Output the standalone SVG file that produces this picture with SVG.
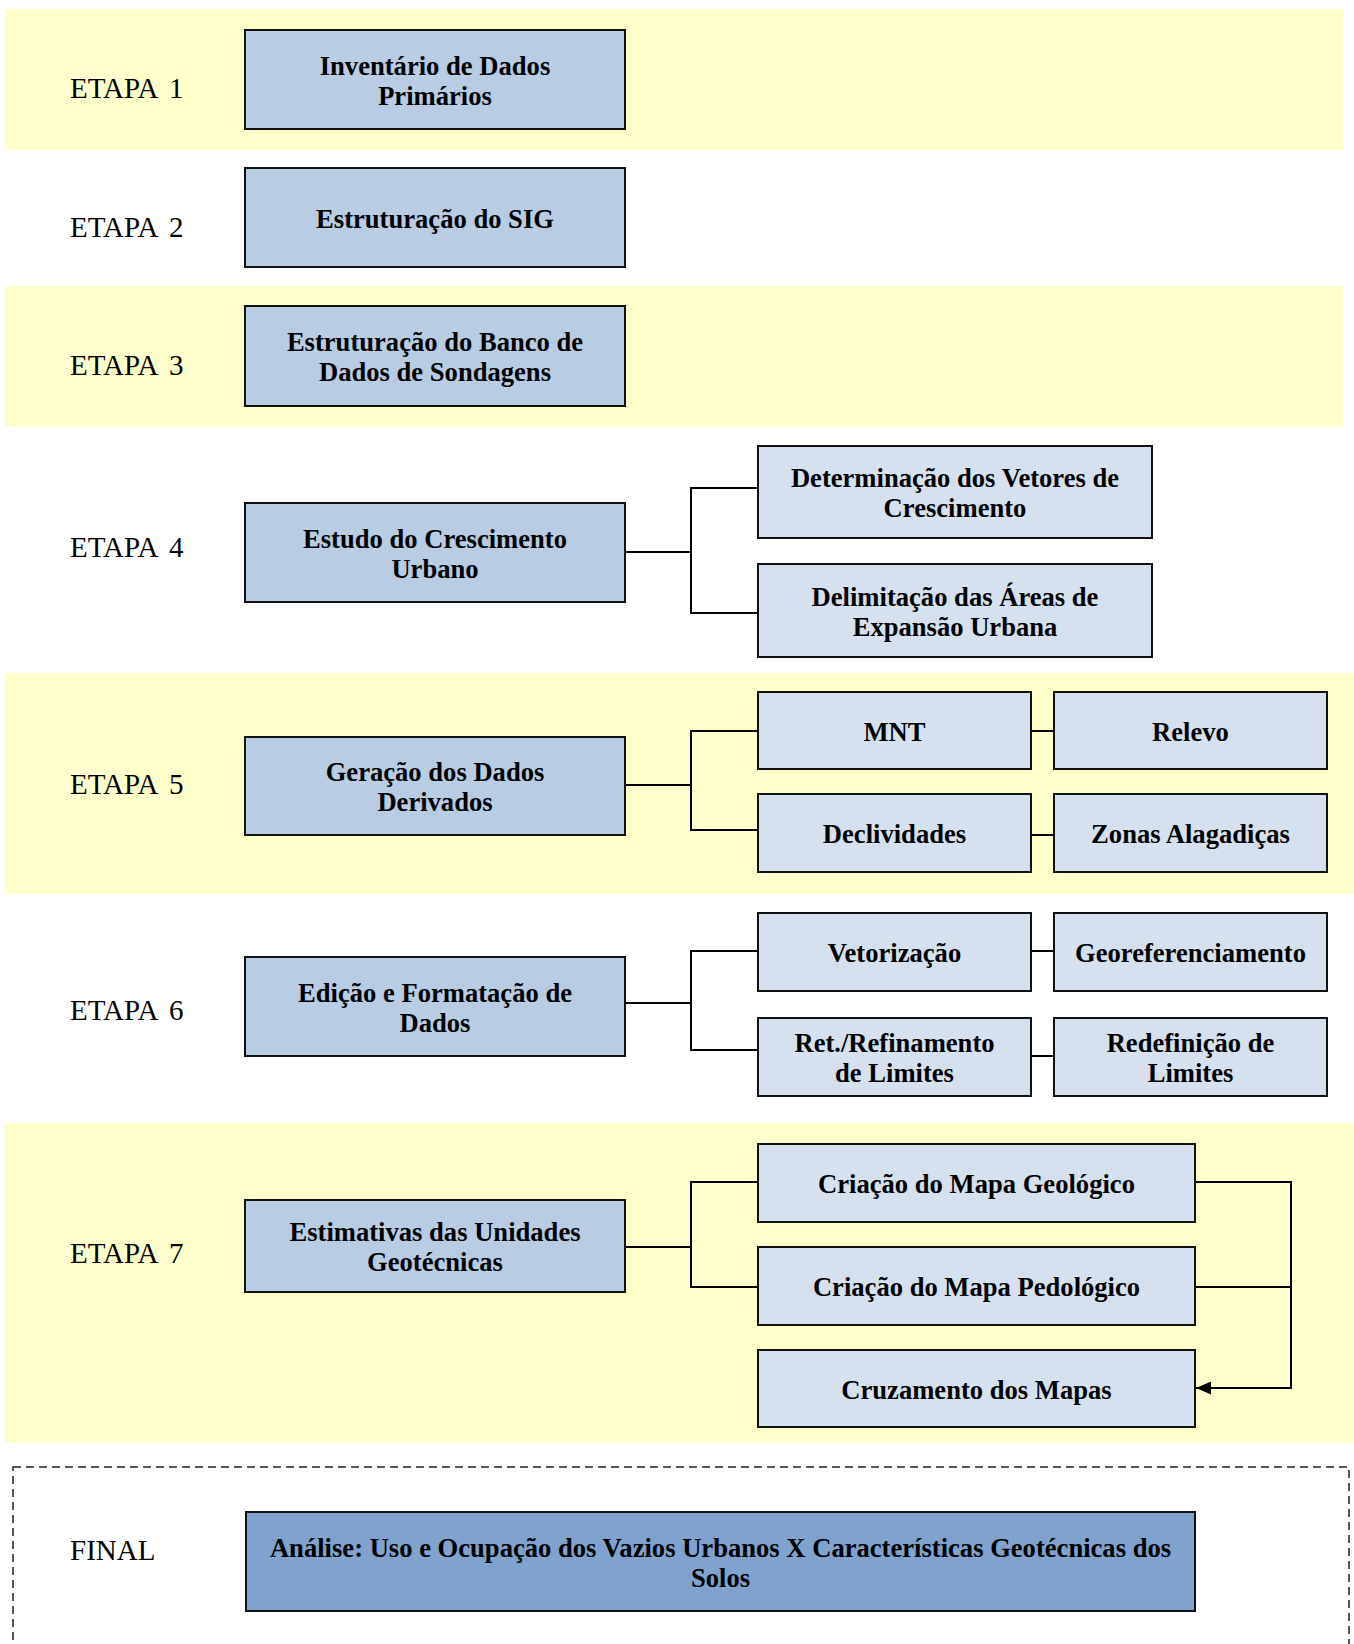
<svg xmlns="http://www.w3.org/2000/svg" width="1354" height="1644" viewBox="0 0 1354 1644">
  <defs>
    <marker id="arrow" markerWidth="15" markerHeight="13" refX="15" refY="6.5" orient="auto" markerUnits="userSpaceOnUse">
      <path d="M0,0 L15,6.5 L0,13 Z" fill="#000"/>
    </marker>
  </defs>
  <style>
    .band { fill: #FFFFCC; }
    .main { fill: #B8CCE4; stroke: #111; stroke-width: 2; }
    .sub { fill: #D6E1EF; stroke: #111; stroke-width: 2; }
    .final { fill: #7FA3CE; stroke: #111; stroke-width: 2; }
    .label { font-family: "Liberation Serif", "Times New Roman", serif; font-size: 29px; word-spacing: 5px; fill: #000; }
    .t { font-family: "Liberation Serif", "Times New Roman", serif; font-size: 26.6px; font-weight: bold; fill: #000; text-anchor: middle; }
    .conn { fill: none; stroke: #000; stroke-width: 2; }
    .dash { fill: none; stroke: #222; stroke-width: 1.5; stroke-dasharray: 8 5; }
  </style>

  <!-- stage bands -->
  <g id="bands">
    <rect class="band" x="5" y="9" width="1338" height="141"/>
    <rect class="band" x="5" y="286" width="1338" height="141"/>
    <rect class="band" x="5" y="673" width="1349" height="221"/>
    <rect class="band" x="5" y="1123" width="1349" height="320"/>
    <rect class="dash" x="13" y="1467" width="1336" height="200"/>
  </g>

  <!-- stage labels -->
  <g id="labels">
    <text class="label" x="70" y="98">ETAPA 1</text>
    <text class="label" x="70" y="237">ETAPA 2</text>
    <text class="label" x="70" y="375">ETAPA 3</text>
    <text class="label" x="70" y="557">ETAPA 4</text>
    <text class="label" x="70" y="794">ETAPA 5</text>
    <text class="label" x="70" y="1020">ETAPA 6</text>
    <text class="label" x="70" y="1263">ETAPA 7</text>
    <text class="label" x="70" y="1560">FINAL</text>
  </g>

  <!-- connectors -->
  <g id="connectors">
    <path class="conn" d="M625 552 H691 M758 488 H691 V613 H758"/>
    <path class="conn" d="M625 785 H691 M758 731 H691 V830 H758"/>
    <path class="conn" d="M1031 731 H1054 M1031 835 H1054"/>
    <path class="conn" d="M625 1003 H691 M758 951 H691 V1050 H758"/>
    <path class="conn" d="M1031 951 H1054 M1031 1056 H1054"/>
    <path class="conn" d="M625 1247 H691 M758 1182 H691 V1287 H758"/>
    <path class="conn" d="M1195 1287 H1291"/>
    <path class="conn" d="M1195 1182 H1291 V1388 H1196" marker-end="url(#arrow)"/>
  </g>

  <!-- stage 1 -->
  <g id="n-inventario">
    <rect class="main" x="245" y="30" width="380" height="99"/>
    <text class="t" x="435" y="74.5">Inventário de Dados</text>
    <text class="t" x="435" y="104.5">Primários</text>
  </g>
  <!-- stage 2 -->
  <g id="n-sig">
    <rect class="main" x="245" y="168" width="380" height="99"/>
    <text class="t" x="435" y="228">Estruturação do SIG</text>
  </g>
  <!-- stage 3 -->
  <g id="n-banco">
    <rect class="main" x="245" y="306" width="380" height="100"/>
    <text class="t" x="435" y="351">Estruturação do Banco de</text>
    <text class="t" x="435" y="381">Dados de Sondagens</text>
  </g>
  <!-- stage 4 -->
  <g id="n-crescimento">
    <rect class="main" x="245" y="503" width="380" height="99"/>
    <text class="t" x="435" y="547.5">Estudo do Crescimento</text>
    <text class="t" x="435" y="577.5">Urbano</text>
  </g>
  <g id="n-vetores">
    <rect class="sub" x="758" y="446" width="394" height="92"/>
    <text class="t" x="955" y="487">Determinação dos Vetores de</text>
    <text class="t" x="955" y="517">Crescimento</text>
  </g>
  <g id="n-expansao">
    <rect class="sub" x="758" y="564" width="394" height="93"/>
    <text class="t" x="955" y="605.5">Delimitação das Áreas de</text>
    <text class="t" x="955" y="635.5">Expansão Urbana</text>
  </g>
  <!-- stage 5 -->
  <g id="n-derivados">
    <rect class="main" x="245" y="737" width="380" height="98"/>
    <text class="t" x="435" y="781">Geração dos Dados</text>
    <text class="t" x="435" y="811">Derivados</text>
  </g>
  <g id="n-mnt">
    <rect class="sub" x="758" y="692" width="273" height="77"/>
    <text class="t" x="894.5" y="740.5">MNT</text>
  </g>
  <g id="n-relevo">
    <rect class="sub" x="1054" y="692" width="273" height="77"/>
    <text class="t" x="1190.5" y="740.5">Relevo</text>
  </g>
  <g id="n-declividades">
    <rect class="sub" x="758" y="794" width="273" height="78"/>
    <text class="t" x="894.5" y="843">Declividades</text>
  </g>
  <g id="n-alagadicas">
    <rect class="sub" x="1054" y="794" width="273" height="78"/>
    <text class="t" x="1190.5" y="843">Zonas Alagadiças</text>
  </g>
  <!-- stage 6 -->
  <g id="n-edicao">
    <rect class="main" x="245" y="957" width="380" height="99"/>
    <text class="t" x="435" y="1001.5">Edição e Formatação de</text>
    <text class="t" x="435" y="1031.5">Dados</text>
  </g>
  <g id="n-vetorizacao">
    <rect class="sub" x="758" y="913" width="273" height="78"/>
    <text class="t" x="894.5" y="962">Vetorização</text>
  </g>
  <g id="n-georef">
    <rect class="sub" x="1054" y="913" width="273" height="78"/>
    <text class="t" x="1190.5" y="962">Georeferenciamento</text>
  </g>
  <g id="n-refinamento">
    <rect class="sub" x="758" y="1018" width="273" height="78"/>
    <text class="t" x="894.5" y="1052">Ret./Refinamento</text>
    <text class="t" x="894.5" y="1082">de Limites</text>
  </g>
  <g id="n-redefinicao">
    <rect class="sub" x="1054" y="1018" width="273" height="78"/>
    <text class="t" x="1190.5" y="1052">Redefinição de</text>
    <text class="t" x="1190.5" y="1082">Limites</text>
  </g>
  <!-- stage 7 -->
  <g id="n-geotecnicas">
    <rect class="main" x="245" y="1200" width="380" height="92"/>
    <text class="t" x="435" y="1241">Estimativas das Unidades</text>
    <text class="t" x="435" y="1271">Geotécnicas</text>
  </g>
  <g id="n-geologico">
    <rect class="sub" x="758" y="1144" width="437" height="78"/>
    <text class="t" x="976.5" y="1193">Criação do Mapa Geológico</text>
  </g>
  <g id="n-pedologico">
    <rect class="sub" x="758" y="1247" width="437" height="78"/>
    <text class="t" x="976.5" y="1296">Criação do Mapa Pedológico</text>
  </g>
  <g id="n-cruzamento">
    <rect class="sub" x="758" y="1350" width="437" height="77"/>
    <text class="t" x="976.5" y="1398.5">Cruzamento dos Mapas</text>
  </g>
  <!-- final -->
  <g id="n-analise">
    <rect class="final" x="246" y="1512" width="949" height="99"/>
    <text class="t" x="720.5" y="1556.5">Análise: Uso e Ocupação dos Vazios Urbanos X Características Geotécnicas dos</text>
    <text class="t" x="720.5" y="1586.5">Solos</text>
  </g>
</svg>
